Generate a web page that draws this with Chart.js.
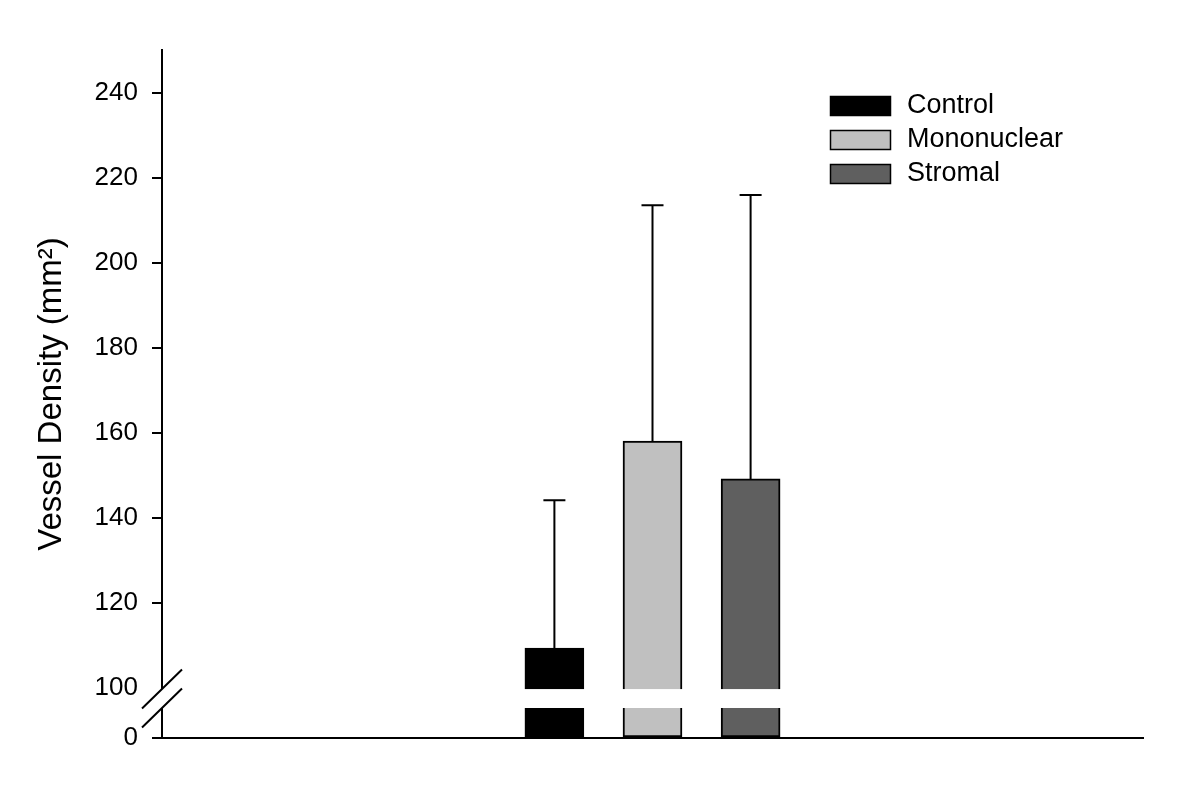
<!DOCTYPE html>
<html>
<head>
<meta charset="utf-8">
<script src="https://cdn.jsdelivr.net/npm/chart.js@4.4.0/dist/chart.umd.min.js"></script>
<style>
  html, body { margin: 0; background: #fff; }
  #wrap { width: 1200px; height: 798px; }
</style>
</head>
<body>
<div id="wrap"><canvas id="chart"></canvas></div>
<script>
// data
var slots = ['', '', '', '', 'Control', 'Mononuclear', 'Stromal', '', '', '', ''];
var groups = ['Control', 'Mononuclear', 'Stromal'];
var means = [109.4, 158.1, 149.2];
var upperErr = [144.2, 213.6, 216.0];
var tickValues = [0, 100, 120, 140, 160, 180, 200, 220, 240];
var barColors = ['#000000', '#c0c0c0', '#5f5f5f'];

// broken axis: 0..100 is squeezed into a short stretch below 100
var AXIS_ZERO = 88.24;
var AXIS_MAX = 250.1;
var BREAK_TOP = 99.75;
var BREAK_BOTTOM = 95.3;
var FIRST_SLOT = 4;
var FONT = "'Liberation Sans', Arial, Helvetica, sans-serif";

function toAxis(v) {
    return v >= 100 ? v : AXIS_ZERO + v * (100 - AXIS_ZERO) / 100;
}

var datasets = groups.map(function(name, i) {
    var data = slots.map(function() { return null; });
    data[FIRST_SLOT + i] = means[i];
    return {
        label: name,
        data: data,
        backgroundColor: barColors[i],
        borderColor: '#000',
        borderWidth: 2,
        borderSkipped: false,
        barThickness: 59,
        grouped: false,
        base: toAxis(0)
    };
});

var errorBars = {
    id: 'errorBars',
    afterDatasetsDraw: function(chart) {
        var ctx = chart.ctx;
        var y = chart.scales.y;
        ctx.save();
        ctx.strokeStyle = '#000';
        ctx.lineWidth = 2;
        groups.forEach(function(name, i) {
            var el = chart.getDatasetMeta(i).data[FIRST_SLOT + i];
            var top = y.getPixelForValue(upperErr[i]);
            ctx.beginPath();
            ctx.moveTo(el.x, el.y);
            ctx.lineTo(el.x, top);
            ctx.moveTo(el.x - 11, top);
            ctx.lineTo(el.x + 11, top);
            ctx.stroke();
        });

        // axis break: white band across the plot and two slashes
        var area = chart.chartArea;
        var yTop = y.getPixelForValue(BREAK_TOP);
        var yBot = y.getPixelForValue(BREAK_BOTTOM);
        ctx.fillStyle = '#fff';
        ctx.fillRect(area.left - 3, yTop, area.right - area.left + 3, yBot - yTop);
        ctx.beginPath();
        [yTop, yBot].forEach(function(py) {
            ctx.moveTo(area.left - 20, py + 19.5);
            ctx.lineTo(area.left + 20, py - 19.5);
        });
        ctx.stroke();
        ctx.restore();
    }
};

var sideLegend = {
    id: 'sideLegend',
    afterDraw: function(chart) {
        var ctx = chart.ctx;
        ctx.save();
        ctx.font = '27px ' + FONT;
        ctx.textBaseline = 'middle';
        ctx.textAlign = 'left';
        chart.data.datasets.forEach(function(ds, i) {
            var top = 96 + i * 34;
            ctx.fillStyle = ds.backgroundColor;
            ctx.fillRect(830, top, 61, 20);
            ctx.strokeStyle = '#000';
            ctx.lineWidth = 1.5;
            ctx.strokeRect(830.5, top + 0.5, 60, 19);
            ctx.fillStyle = '#000';
            ctx.fillText(ds.label, 907, top + 10);
        });
        ctx.restore();
    }
};

new Chart(document.getElementById('chart'), {
    type: 'bar',
    data: { labels: slots, datasets: datasets },
    options: {
        responsive: true,
        maintainAspectRatio: false,
        animation: false,
        layout: { padding: { top: 50, right: 57, left: 0, bottom: 0 } },
        plugins: {
            legend: { display: false },
            tooltip: { enabled: false }
        },
        scales: {
            x: {
                type: 'category',
                offset: false,
                grid: { display: false },
                ticks: { display: false },
                border: { display: true, color: '#000', width: 2 },
                afterFit: function(scale) { scale.height = 60; }
            },
            y: {
                min: AXIS_ZERO,
                max: AXIS_MAX,
                afterBuildTicks: function(scale) {
                    scale.ticks = tickValues.map(function(v) { return { value: toAxis(v) }; });
                },
                afterFit: function(scale) { scale.width = 162; },
                ticks: {
                    autoSkip: false,
                    padding: 14,
                    color: '#000',
                    font: { family: FONT, size: 26 },
                    callback: function(value) {
                        return Math.abs(value - AXIS_ZERO) < 0.01 ? '0' : String(value);
                    }
                },
                grid: {
                    drawOnChartArea: false,
                    drawTicks: true,
                    tickLength: 10,
                    lineWidth: 2,
                    color: function(c) {
                        return c.tick && c.tick.value === 100 ? 'rgba(0,0,0,0)' : '#000';
                    }
                },
                border: { display: true, color: '#000', width: 2 },
                title: {
                    display: true,
                    text: 'Vessel Density (mm\u00b2)',
                    color: '#000',
                    font: { family: FONT, size: 33 },
                    padding: { top: 32, bottom: 0 }
                }
            }
        }
    },
    plugins: [errorBars, sideLegend]
});
</script>
</body>
</html>
